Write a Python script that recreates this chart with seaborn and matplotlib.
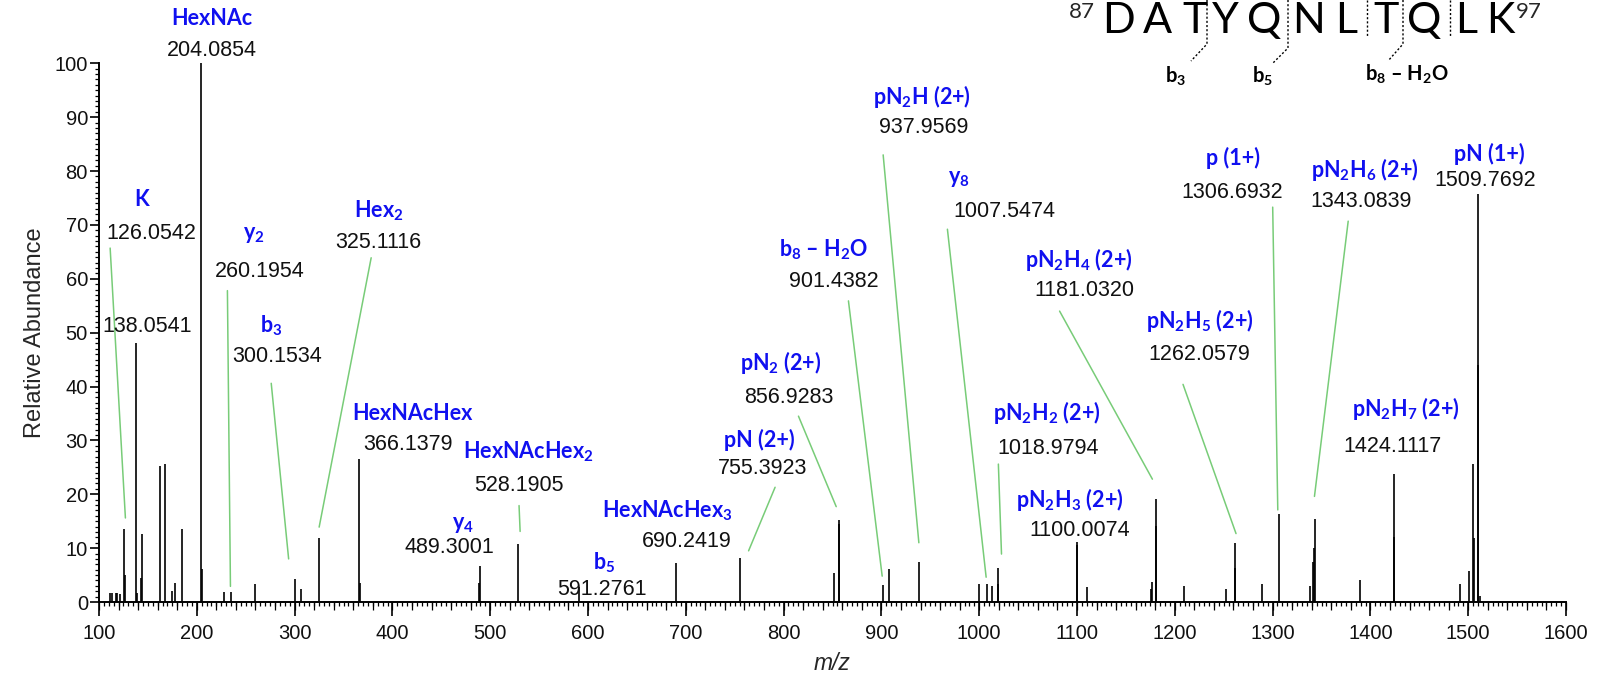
import numpy as np
import pandas as pd
import seaborn as sns
import matplotlib
matplotlib.use("Agg")
import matplotlib.pyplot as plt
from matplotlib.ticker import MultipleLocator
from matplotlib.lines import Line2D

# ---------------- data ----------------
peak_mz = [110.9, 113.0, 117.4, 118.7, 121.1, 126.05, 127.0, 138.05, 139.0, 143.0,
           144.1, 162.0, 167.2, 174.3, 178.0, 184.9, 204.09, 205.1, 227.8, 234.7,
           259.7, 300.15, 306.7, 325.11, 366.14, 367.1, 488.6, 489.3, 528.19, 591.28,
           690.24, 755.39, 851.9, 856.43, 856.93, 901.44, 907.4, 937.96, 999.9, 1007.55,
           1013.4, 1018.98, 1019.5, 1099.5, 1100.0, 1110.5, 1175.5, 1176.2, 1180.5, 1181.03,
           1209.8, 1252.8, 1261.56, 1262.06, 1289.5, 1306.69, 1337.8, 1341.6, 1342.1, 1343.08,
           1389.0, 1424.11, 1424.6, 1491.2, 1500.5, 1504.6, 1505.6, 1509.77, 1510.3, 1512.5]
peak_int = [1.7, 1.7, 1.7, 1.7, 1.4, 13.6, 5.0, 48.0, 1.6, 4.5,
            12.6, 25.3, 25.6, 2.1, 3.6, 13.6, 100.0, 6.2, 1.9, 1.9,
            3.3, 4.3, 2.4, 11.9, 26.5, 3.6, 3.6, 6.7, 10.7, 2.8,
            7.3, 8.2, 5.3, 14.5, 15.3, 3.1, 6.2, 7.5, 3.3, 3.3,
            3.0, 6.3, 3.3, 10.6, 11.1, 2.8, 2.5, 3.8, 14.1, 19.2,
            3.0, 2.4, 6.3, 10.9, 3.3, 16.3, 3.0, 7.5, 10.0, 15.5,
            4.0, 23.8, 12.1, 3.3, 5.8, 25.7, 11.8, 75.8, 44.0, 1.1]

label_names = ["HexNAc", "K", r"$\mathbf{y_2}$", "", r"$\mathbf{Hex_2}$", r"$\mathbf{b_3}$",
               "HexNAcHex", r"$\mathbf{y_4}$", r"$\mathbf{HexNAcHex_2}$", r"$\mathbf{b_5}$",
               r"$\mathbf{HexNAcHex_3}$", "pN (2+)", r"$\mathbf{pN_2}$ (2+)",
               r"$\mathbf{b_8}$ – $\mathbf{H_2O}$", r"$\mathbf{pN_2H}$ (2+)", r"$\mathbf{y_8}$",
               r"$\mathbf{pN_2H_4}$ (2+)", r"$\mathbf{pN_2H_2}$ (2+)", r"$\mathbf{pN_2H_3}$ (2+)",
               r"$\mathbf{pN_2H_5}$ (2+)", "p (1+)", r"$\mathbf{pN_2H_6}$ (2+)", "pN (1+)",
               r"$\mathbf{pN_2H_7}$ (2+)"]
label_values = ["204.0854", "126.0542", "260.1954", "138.0541", "325.1116", "300.1534",
                "366.1379", "489.3001", "528.1905", "591.2761", "690.2419", "755.3923",
                "856.9283", "901.4382", "937.9569", "1007.5474", "1181.0320", "1018.9794",
                "1100.0074", "1262.0579", "1306.6932", "1343.0839", "1509.7692", "1424.1117"]

peptide = ["D", "A", "T", "Y", "Q", "N", "L", "T", "Q", "L", "K"]
pep_start, pep_end = "87", "97"
frag_labels = [r"$\mathbf{b_3}$", r"$\mathbf{b_5}$", r"$\mathbf{b_8}$ – $\mathbf{H_2O}$"]

# ---------------- layout (data coords) ----------------
name_pos = [(215.7, 108.3), (143.7, 74.8), (258.4, 68.2), None, (385.6, 72.6), (276.1, 51.2),
            (420.0, 34.9), (472.2, 14.3), (538.9, 27.9), (616.1, 7.3), (680.7, 16.9),
            (775.6, 30.0), (797.5, 44.5), (841.3, 65.4), (941.4, 93.9), (978.9, 78.6),
            (1102.0, 63.5), (1068.6, 35.1), (1092.6, 19.0), (1225.0, 52.3), (1259.5, 82.4),
            (1394.0, 80.3), (1521.2, 83.2), (1435.7, 36.0)]
num_pos = [(215.7, 102.3), (153.1, 68.4), (264.7, 61.4), (148.9, 51.2), (385.6, 66.7),
           (282.4, 45.5), (415.9, 29.2), (458.6, 10.1), (529.5, 21.6), (614.0, 2.3),
           (700.5, 11.2), (778.8, 24.7), (805.8, 37.9), (851.7, 59.5), (943.5, 88.1),
           (1025.9, 72.4), (1107.2, 57.8), (1070.7, 28.5), (1103.0, 13.3), (1225.0, 45.9),
           (1258.4, 76.0), (1390.8, 74.3), (1517.0, 78.3), (1422.1, 28.8)]
leaders = [None, (111.4, 65.7, 127.0, 15.6), (231.3, 57.8, 234.4, 2.9), None,
           (378.3, 63.9, 325.1, 13.9), (276.1, 40.6, 293.9, 8.0), None, None,
           (529.5, 17.9, 530.6, 13.1), None, None, (791.3, 21.3, 764.2, 9.5),
           (815.2, 34.5, 853.8, 17.7), (866.3, 55.9, 900.8, 4.8), (901.8, 83.0, 938.3, 11.0),
           (967.5, 69.2, 1007.1, 4.6), (1082.2, 54.0, 1177.1, 22.8), (1019.6, 25.6, 1022.8, 8.9),
           None, (1208.4, 40.4, 1262.6, 12.7), (1300.1, 73.3, 1305.3, 17.1),
           (1377.3, 70.7, 1342.8, 19.6), None, None]

# peptide layout in figure pixels (from top-left)
pep_x = [1118, 1157, 1195, 1225, 1264, 1309, 1346, 1386, 1424, 1466, 1500]
W, H = 1599, 677

sns.set_theme(style="ticks")
plt.rcParams['font.family'] = ['Liberation Sans', 'DejaVu Sans']
plt.rcParams['mathtext.fontset'] = 'custom'
plt.rcParams['mathtext.bf'] = 'Lato:bold'
plt.rcParams['mathtext.rm'] = 'Lato'
plt.rcParams['mathtext.it'] = 'Lato:italic'

fig = plt.figure(figsize=(W / 100, H / 100), dpi=100)
ax = fig.add_axes([99 / W, 1 - 602 / H, (1566 - 99) / W, (602 - 63.3) / H])

df = pd.DataFrame({"mz": peak_mz, "intensity": peak_int})
ax.vlines(df["mz"], 0, df["intensity"], color="black", lw=1.2)

ax.set_xlim(100, 1600)
ax.set_ylim(0, 100)
sns.despine(ax=ax)
for s in ["left", "bottom"]:
    ax.spines[s].set_linewidth(1.4)
    ax.spines[s].set_color("black")

ax.xaxis.set_major_locator(MultipleLocator(100))
ax.xaxis.set_minor_locator(MultipleLocator(5))
ax.yaxis.set_major_locator(MultipleLocator(10))
ax.yaxis.set_minor_locator(MultipleLocator(1))
ax.tick_params(axis='x', which='major', length=10, width=1.2, pad=6, labelsize=14.5, color='black')
ax.tick_params(axis='x', which='minor', length=3, width=0.9, color='black')
ax.tick_params(axis='y', which='major', length=6.5, width=1.2, pad=1.5, labelsize=14.5, color='black')
ax.tick_params(axis='y', which='minor', length=3, width=0.9, color='black')
ax.tick_params(labelcolor='#111111')

sec = ax.secondary_xaxis('bottom', functions=(lambda x: x, lambda x: x))
sec.xaxis.set_major_locator(MultipleLocator(20))
sec.tick_params(axis='x', which='major', length=6, width=0.9, labelbottom=False, color='black')
sec.xaxis.set_minor_locator(plt.NullLocator())
sec.spines['bottom'].set_visible(False)

ax.set_ylabel("Relative Abundance", fontsize=17, labelpad=6)
ax.set_xlabel("m/z", fontsize=16.5, style='italic', labelpad=6)

blue = "#1010F0"
green = "#78CC78"
for name, val, npos, vpos, ld in zip(label_names, label_values, name_pos, num_pos, leaders):
    if npos is not None and name:
        ax.text(npos[0], npos[1], name, color=blue, fontsize=15.5, fontweight='bold',
                family=['Lato', 'DejaVu Sans'], ha='center', va='center', clip_on=False)
    ax.text(vpos[0], vpos[1], val, color='#111111', fontsize=15.5, ha='center', va='center',
            clip_on=False)
    if ld is not None:
        ax.plot([ld[0], ld[2]], [ld[1], ld[3]], color=green, lw=1.1, clip_on=False)

# peptide sequence
for ch, x in zip(peptide, pep_x):
    fig.text(x / W, 1 - 33 / H, ch, fontsize=31, family=['Lato', 'DejaVu Sans'],
             fontweight='normal', ha='center', va='baseline', color='black')
fig.text(1082 / W, 1 - 18 / H, pep_start, fontsize=16, family=['Lato', 'DejaVu Sans'],
         fontweight='normal', ha='center', va='baseline')
fig.text(1529 / W, 1 - 18 / H, pep_end, fontsize=16, family=['Lato', 'DejaVu Sans'],
         fontweight='normal', ha='center', va='baseline')

def fline(xs, ys):
    fig.add_artist(Line2D([x / W for x in xs], [1 - y / H for y in ys],
                          transform=fig.transFigure, color='black', lw=1.0, ls=(0, (1.5, 1.5))))

fline([1207, 1207, 1191], [0, 44, 61])
fline([1288, 1288, 1273], [0, 48, 63])
fline([1367, 1367], [0, 36])
fline([1403, 1403, 1388], [0, 44, 61])
fline([1450, 1450], [0, 36])

for lab, (x, y) in zip(frag_labels, [(1176, 76), (1263, 76), (1407, 74)]):
    fig.text(x / W, 1 - y / H, lab, fontsize=14.5, fontweight='bold',
             family=['Lato', 'DejaVu Sans'], ha='center', va='center', color='black')

fig.savefig("out.png", dpi=100)
